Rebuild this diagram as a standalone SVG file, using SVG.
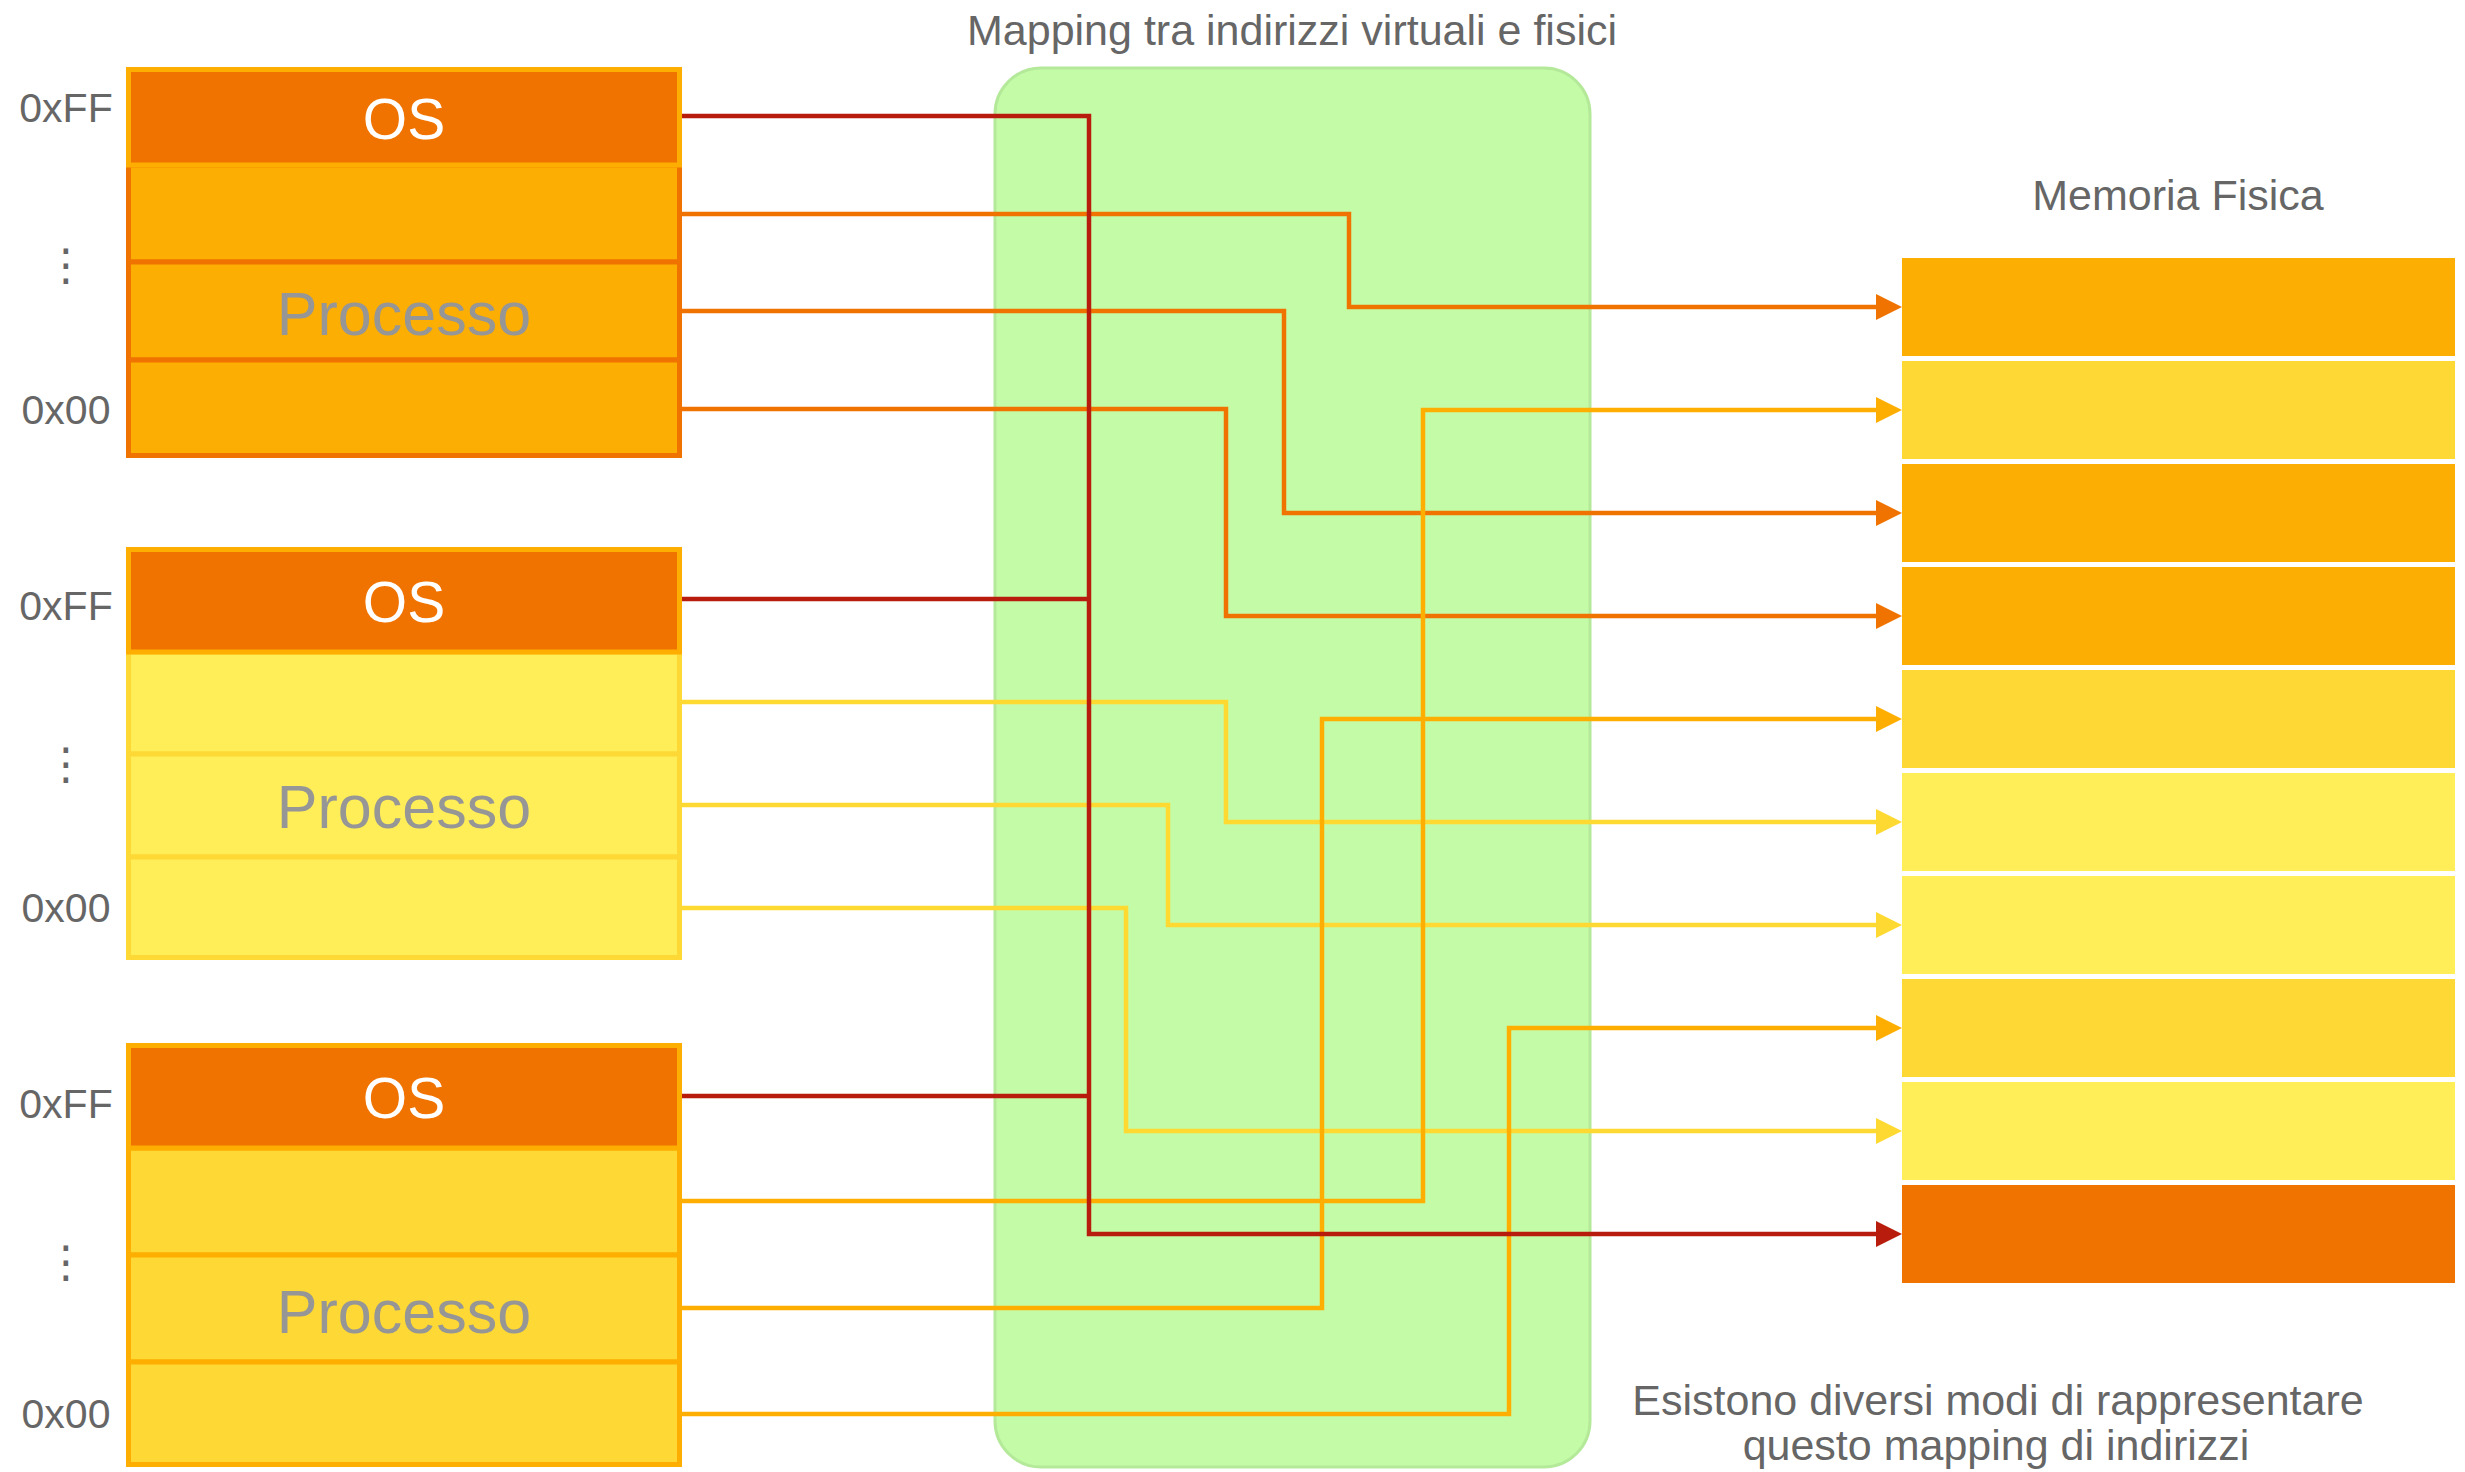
<svg xmlns="http://www.w3.org/2000/svg" width="2465" height="1472" viewBox="0 0 2465 1472">
  <style>
    .lbl { font-family: "Liberation Sans", Arial, sans-serif; font-size: 41px; fill: #666666; }
    .dots { font-family: "DejaVu Sans", sans-serif; font-size: 44px; fill: #666666; }
    .os-text { font-family: "Liberation Sans", Arial, sans-serif; font-size: 57px; fill: #ffffff; text-anchor: middle; }
    .proc-text { font-family: "Liberation Sans", Arial, sans-serif; font-size: 61px; fill: #969696; text-anchor: middle; }
    .title { font-family: "Liberation Sans", Arial, sans-serif; font-size: 43px; fill: #666666; text-anchor: middle; }
    .os { fill: #f07300; stroke: #fdae00; stroke-width: 5; }
    .row1 { fill: #fcae03; stroke: #f07300; stroke-width: 5; }
    .row2 { fill: #ffee58; stroke: #fed834; stroke-width: 5; }
    .row3 { fill: #fed834; stroke: #fdae00; stroke-width: 5; }
    .wire { fill: none; stroke-width: 4.5; stroke-linejoin: miter; }
    .c-red { stroke: #b71c0c; }
    .c-orange { stroke: #f07300; }
    .c-yellow { stroke: #fed932; }
    .c-amber { stroke: #fdae00; }
    .mem-a { fill: #fcae03; }
    .mem-b { fill: #fed834; }
    .mem-c { fill: #ffee58; }
    .mem-os { fill: #f07300; }
  </style>
  <defs>
    <marker id="ah-red" markerUnits="userSpaceOnUse" markerWidth="26" markerHeight="26" viewBox="0 0 26 26" refX="1" refY="13" orient="auto">
      <path d="M0,0 L26,13 L0,26 Z" fill="#b71c0c"/>
    </marker>
    <marker id="ah-orange" markerUnits="userSpaceOnUse" markerWidth="26" markerHeight="26" viewBox="0 0 26 26" refX="1" refY="13" orient="auto">
      <path d="M0,0 L26,13 L0,26 Z" fill="#f07300"/>
    </marker>
    <marker id="ah-yellow" markerUnits="userSpaceOnUse" markerWidth="26" markerHeight="26" viewBox="0 0 26 26" refX="1" refY="13" orient="auto">
      <path d="M0,0 L26,13 L0,26 Z" fill="#fed932"/>
    </marker>
    <marker id="ah-amber" markerUnits="userSpaceOnUse" markerWidth="26" markerHeight="26" viewBox="0 0 26 26" refX="1" refY="13" orient="auto">
      <path d="M0,0 L26,13 L0,26 Z" fill="#fdae00"/>
    </marker>
  </defs>

  <rect width="2465" height="1472" fill="#ffffff"/>

  <!-- mapping area -->
  <g id="mapping">
    <rect x="995" y="68" width="595" height="1399" rx="46" ry="46" fill="#c4fba7" stroke="#b4e99a" stroke-width="3"/>
    <text class="title" x="1292" y="45">Mapping tra indirizzi virtuali e fisici</text>
  </g>

  <!-- virtual address space 1 -->
  <g id="space1">
    <rect class="row1" x="128.5" y="165" width="551" height="97"/>
    <rect class="row1" x="128.5" y="262" width="551" height="98"/>
    <rect class="row1" x="128.5" y="360" width="551" height="95.5"/>
    <rect class="os" x="128.5" y="69.5" width="551" height="95.5"/>
    <text class="os-text" x="404" y="139">OS</text>
    <text class="proc-text" x="404" y="335">Processo</text>
    <text class="lbl" x="66" y="122" text-anchor="middle">0xFF</text>
    <text class="dots" x="66" y="280" text-anchor="middle">⋮</text>
    <text class="lbl" x="66" y="424" text-anchor="middle">0x00</text>
  </g>

  <!-- virtual address space 2 -->
  <g id="space2">
    <rect class="row2" x="128.5" y="652" width="551" height="102"/>
    <rect class="row2" x="128.5" y="754" width="551" height="103"/>
    <rect class="row2" x="128.5" y="857" width="551" height="100.5"/>
    <rect class="os" x="128.5" y="549.5" width="551" height="102.5"/>
    <text class="os-text" x="404" y="622">OS</text>
    <text class="proc-text" x="404" y="828">Processo</text>
    <text class="lbl" x="66" y="620" text-anchor="middle">0xFF</text>
    <text class="dots" x="66" y="779" text-anchor="middle">⋮</text>
    <text class="lbl" x="66" y="922" text-anchor="middle">0x00</text>
  </g>

  <!-- virtual address space 3 -->
  <g id="space3">
    <rect class="row3" x="128.5" y="1148" width="551" height="107"/>
    <rect class="row3" x="128.5" y="1255" width="551" height="107"/>
    <rect class="row3" x="128.5" y="1362" width="551" height="102.5"/>
    <rect class="os" x="128.5" y="1045.5" width="551" height="102.5"/>
    <text class="os-text" x="404" y="1118">OS</text>
    <text class="proc-text" x="404" y="1333">Processo</text>
    <text class="lbl" x="66" y="1118" text-anchor="middle">0xFF</text>
    <text class="dots" x="66" y="1277" text-anchor="middle">⋮</text>
    <text class="lbl" x="66" y="1428" text-anchor="middle">0x00</text>
  </g>

  <!-- physical memory frames -->
  <g id="physical">
    <text class="title" x="2178" y="210">Memoria Fisica</text>
    <rect class="mem-a" x="1902" y="258" width="553" height="98"/>
    <rect class="mem-b" x="1902" y="361" width="553" height="98"/>
    <rect class="mem-a" x="1902" y="464" width="553" height="98"/>
    <rect class="mem-a" x="1902" y="567" width="553" height="98"/>
    <rect class="mem-b" x="1902" y="670" width="553" height="98"/>
    <rect class="mem-c" x="1902" y="773" width="553" height="98"/>
    <rect class="mem-c" x="1902" y="876" width="553" height="98"/>
    <rect class="mem-b" x="1902" y="979" width="553" height="98"/>
    <rect class="mem-c" x="1902" y="1082" width="553" height="98"/>
    <rect class="mem-os" x="1902" y="1185" width="553" height="98"/>
  </g>

  <!-- page-to-frame mappings -->
  <g id="connectors">
    <path class="wire c-orange" d="M682,214 H1349 V307 H1877" marker-end="url(#ah-orange)"/>
    <path class="wire c-orange" d="M682,311 H1284 V513 H1877" marker-end="url(#ah-orange)"/>
    <path class="wire c-orange" d="M682,409 H1226 V616 H1877" marker-end="url(#ah-orange)"/>
    <path class="wire c-yellow" d="M682,702 H1226 V822 H1877" marker-end="url(#ah-yellow)"/>
    <path class="wire c-yellow" d="M682,805 H1168 V925 H1877" marker-end="url(#ah-yellow)"/>
    <path class="wire c-yellow" d="M682,908 H1126 V1131 H1877" marker-end="url(#ah-yellow)"/>
    <path class="wire c-amber" d="M682,1201 H1423 V410 H1877" marker-end="url(#ah-amber)"/>
    <path class="wire c-amber" d="M682,1308 H1322 V719 H1877" marker-end="url(#ah-amber)"/>
    <path class="wire c-amber" d="M682,1414 H1509 V1028 H1877" marker-end="url(#ah-amber)"/>
    <path class="wire c-red" d="M682,599 H1089"/>
    <path class="wire c-red" d="M682,1096 H1089"/>
    <path class="wire c-red" d="M682,116 H1089 V1234 H1877" marker-end="url(#ah-red)"/>
  </g>

  <!-- note -->
  <g id="note">
    <text class="title" x="1998" y="1415">Esistono diversi modi di rappresentare</text>
    <text class="title" x="1996" y="1460">questo mapping di indirizzi</text>
  </g>
</svg>
